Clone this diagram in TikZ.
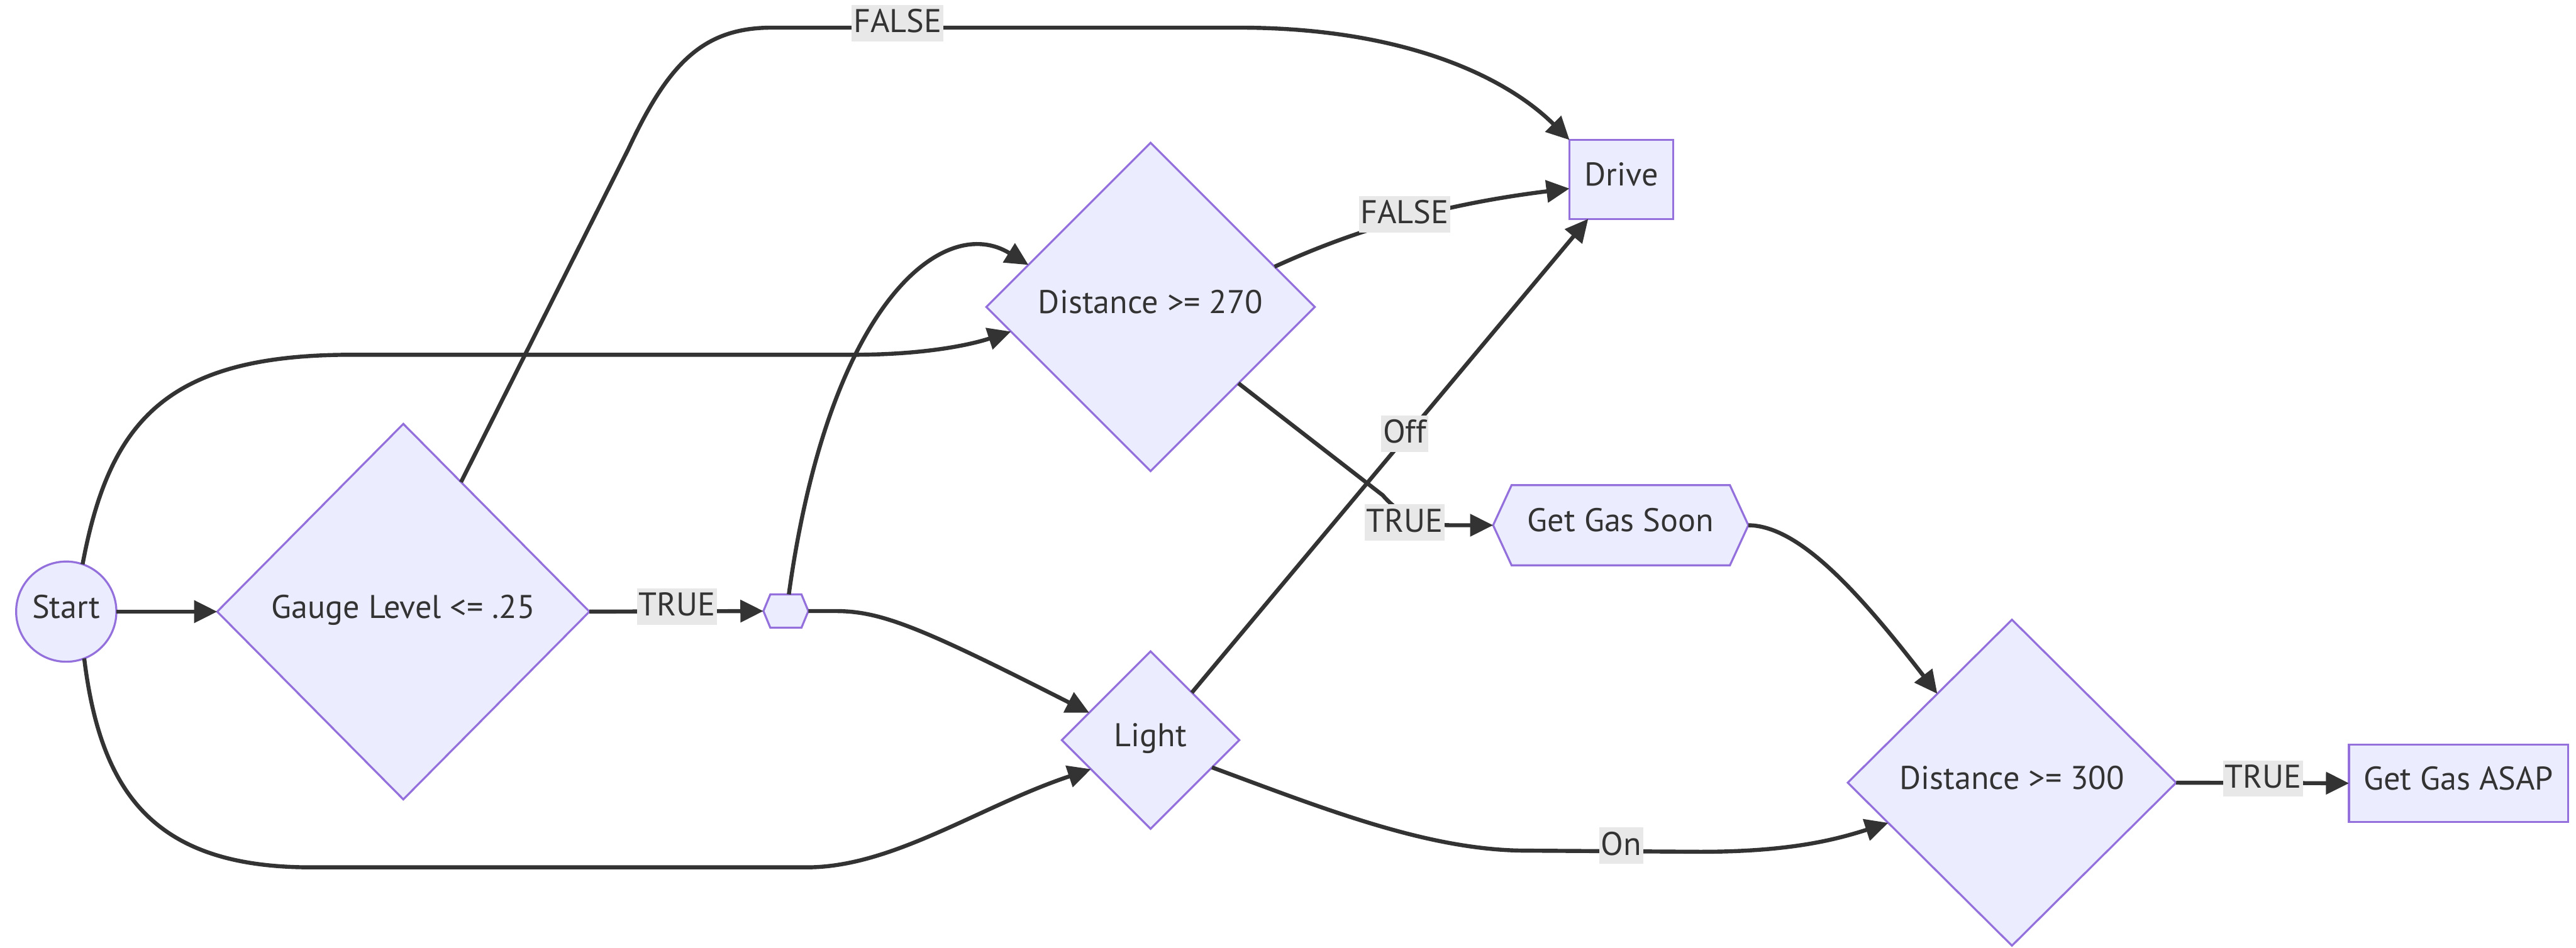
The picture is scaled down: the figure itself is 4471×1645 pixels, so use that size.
\documentclass[tikz,border=0pt]{standalone}
\usepackage{fontspec}
\setmainfont{PT Sans}
\usetikzlibrary{shapes.geometric, arrows.meta, backgrounds}
\definecolor{nodefill}{HTML}{ECECFF}
\definecolor{nodeline}{HTML}{9370DB}
\definecolor{ink}{HTML}{333333}
\definecolor{lblbg}{HTML}{E8E8E8}
\begin{document}
\begin{tikzpicture}[x=1pt, y=-1pt,
  every node/.style={font=\fontsize{57}{68}\selectfont, text=ink},
  shapebase/.style={draw=nodeline, fill=nodefill, line width=3.5pt, inner sep=0pt, outer sep=0pt,
    text height=40pt, text depth=18pt},
  decision/.style={shapebase, diamond, aspect=1},
  terminal/.style={shapebase, circle},
  stepbox/.style={shapebase, rectangle},
  hexnode/.style={rectangle, inner sep=0pt, outer sep=0pt, text height=40pt, text depth=18pt},
  hexline/.style={draw=nodeline, fill=nodefill, line width=3.5pt, line join=miter},
  flow/.style={draw=ink, line width=7pt, -{Triangle[length=40pt, width=38pt]}},
  elabel/.style={fill=lblbg, inner xsep=3pt, inner ysep=0pt, text height=48pt, text depth=15pt}
]
\path[use as bounding box] (0,0) rectangle (4471,1645);

% nodes
\node[terminal, minimum size=174pt] (start) at (115,1062) {Start};
\node[decision, minimum width=646pt, minimum height=652pt] (gauge) at (700,1062) {Gauge Level <= .25};
\node[hexnode, minimum width=78pt, minimum height=55pt] (hx) at (1364,1061) {};
\node[decision, minimum width=570pt, minimum height=570pt] (d270) at (1997,533) {Distance >= 270};
\node[decision, minimum width=308pt, minimum height=308pt] (light) at (1997,1285) {Light};
\node[stepbox, minimum width=180pt, minimum height=137pt] (drive) at (2814,311.5) {Drive};
\node[hexnode, minimum width=443pt, minimum height=139pt] (soon) at (2813,912) {Get Gas Soon};
\node[decision, minimum width=570pt, minimum height=566pt] (d300) at (3492,1359) {Distance >= 300};
\node[stepbox, minimum width=380pt, minimum height=135pt] (asap) at (4267,1360) {Get Gas ASAP};

% white page, then the hexagon outlines behind the hexagon nodes' text
\begin{scope}[on background layer]
  \fill[white] (0,0) rectangle (4471,1645);
  \draw[hexline] (hx.west) -- ([xshift=12pt]hx.north west) -- ([xshift=-12pt]hx.north east)
    -- (hx.east) -- ([xshift=-12pt]hx.south east) -- ([xshift=12pt]hx.south west) -- cycle;
  \draw[hexline] (soon.west) -- ([xshift=32pt]soon.north west) -- ([xshift=-32pt]soon.north east)
    -- (soon.east) -- ([xshift=-32pt]soon.south east) -- ([xshift=32pt]soon.south west) -- cycle;
\end{scope}

% connectors
\draw[flow] (start.east) -- (gauge.west);
\draw[flow] (start.71) .. controls (190,730) and (290,616) .. (610,616) -- (1480,616)
  .. controls (1600,616) and (1680,600) .. (d270.190);
\draw[flow] (start.291) .. controls (175,1380) and (270,1506) .. (540,1506) -- (1400,1506)
  .. controls (1550,1506) and (1700,1400) .. (light.206);
\draw[flow] (gauge.66) -- (1090,260) .. controls (1160,110) and (1220,48) .. (1340,48) -- (2150,48)
  .. controls (2430,48) and (2610,130) .. (drive.north west);
\draw[flow] (gauge.east) -- (hx.west);
\draw[flow] (hx.80) .. controls (1440,520) and (1640,370) .. (d270.161);
\draw[flow] (hx.east) -- (1450,1061) .. controls (1530,1061) and (1600,1090) .. (light.156);
\draw[flow] (d270.18) .. controls (2350,400) and (2500,355) .. (drive.190);
\draw[flow] (d270.319) -- (2400,860) .. controls (2430,895) and (2470,912) .. (2520,912) -- (soon.west);
\draw[flow] (light.49) -- (drive.230);
\draw[flow] (light.336) .. controls (2300,1405) and (2480,1477) .. (2650,1477) -- (2950,1479)
  .. controls (3100,1479) and (3180,1460) .. (d300.198);
\draw[flow] (soon.east) .. controls (3120,913) and (3220,1020) .. (d300.130);
\draw[flow] (d300.east) -- (asap.west);

% connector labels
\node[elabel] (lt1) at (1175,1053) {TRUE};
\node[elabel] (lf1) at (1558,40) {FALSE};
\node[elabel] (lf2) at (2438,372) {FALSE};
\node[elabel] (loff) at (2438,753) {Off};
\node[elabel] (lt2) at (2438,907) {TRUE};
\node[elabel] (lon) at (2814,1468) {On};
\node[elabel] (lt3) at (3928,1352) {TRUE};
\end{tikzpicture}
\end{document}
